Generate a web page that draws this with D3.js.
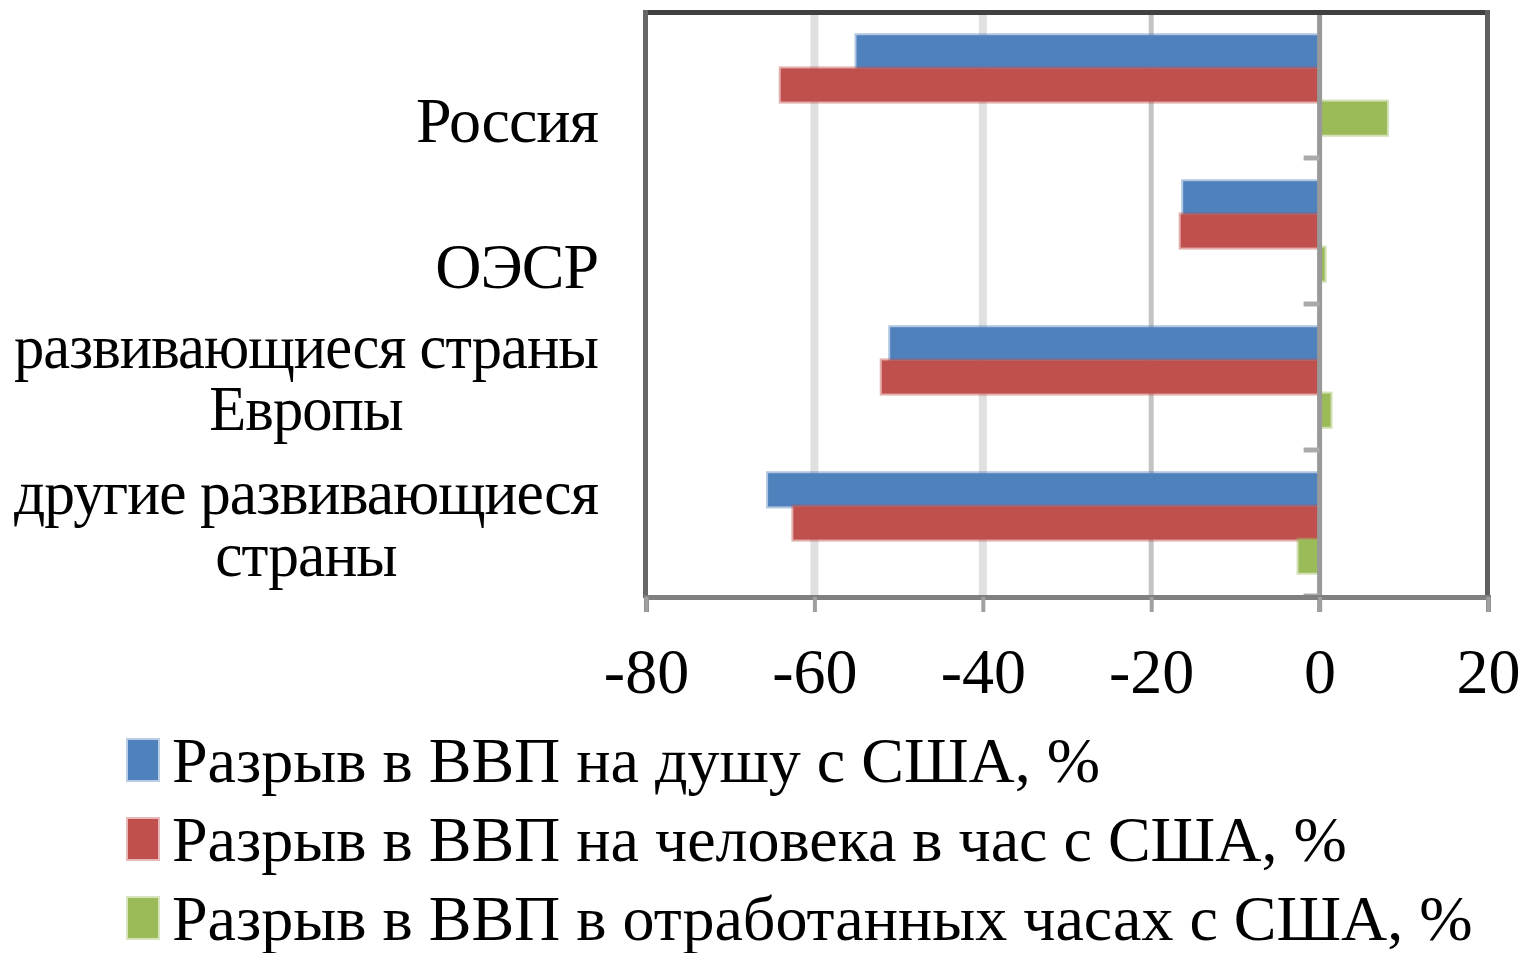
<!DOCTYPE html>
<meta charset="utf-8">
<title>Разрыв в ВВП с США</title>
<body>
<script src="https://cdn.jsdelivr.net/npm/d3@7"></script>
<style>
html, body {
    margin: 0;
    background: #fff;
}
svg {
    display: block;
    font-family: "Liberation Serif", "DejaVu Serif", serif;
}
</style>
<script>
var categories = ["Россия", "ОЭСР", "развивающиеся страны\nЕвропы", "другие развивающиеся\nстраны"];
var seriesNames = [
    "Разрыв в ВВП на душу с США, %",
    "Разрыв в ВВП на человека в час с США, %",
    "Разрыв в ВВП в отработанных часах с США, %"
];
var perCapita = [-55, -16.2, -51, -65.5];
var perHour = [-64, -16.5, -52, -62.5];
var hoursWorked = [8, 0.6, 1.3, -2.5];
var ticks = [-80, -60, -40, -20, 0, 20];
var colors = ["#4f81bd", "#c0504d", "#9bbb59"];

var width = 1525,
    height = 953;

var svg = d3.select("body").append("svg")
    .attr("width", width)
    .attr("height", height);

var x = d3.scaleLinear().domain([-80, 20]).range([646, 1488]);
var y = d3.scaleBand().domain(categories).range([12, 596]);
var y1 = d3.scaleBand().domain([0, 1, 2]).range([0, y.bandwidth()]).paddingOuter(0.7);

var series = [perCapita, perHour, hoursWorked];

// gridlines
svg.append("g").selectAll("line")
    .data(ticks.filter(function(t) { return t > -80 && t < 0; }))
    .enter().append("line")
    .attr("x1", x).attr("x2", x)
    .attr("y1", 12).attr("y2", 596)
    .attr("stroke", function(d) { return d === -20 ? "#c4c4c4" : "#e0e0e0"; })
    .attr("stroke-width", function(d) { return d === -20 ? 5 : 8; });

// bars
categories.forEach(function(c, ci) {
    var g = svg.append("g").attr("transform", "translate(0," + y(c) + ")");
    series.forEach(function(s, si) {
        var v = s[ci];
        g.append("rect")
            .attr("x", x(Math.min(0, v)))
            .attr("width", Math.abs(x(v) - x(0)))
            .attr("y", y1(si))
            .attr("height", y1.bandwidth())
            .attr("fill", colors[si])
            .attr("stroke", colors[si])
            .attr("stroke-opacity", 0.45)
            .attr("stroke-width", 4);
    });
});

// zero axis and category ticks
svg.append("line")
    .attr("x1", x(0)).attr("x2", x(0))
    .attr("y1", 12).attr("y2", 612)
    .attr("stroke", "#999").attr("stroke-width", 5);

svg.append("g").selectAll("line")
    .data(categories.slice(1).map(function(c) { return y(c); }).concat([596]))
    .enter().append("line")
    .attr("x1", x(0) - 16).attr("x2", x(0))
    .attr("y1", function(d) { return d; }).attr("y2", function(d) { return d; })
    .attr("stroke", "#aaa").attr("stroke-width", 5);

// frame
svg.append("line").attr("x1", 643).attr("x2", 1490).attr("y1", 12.5).attr("y2", 12.5)
    .attr("stroke", "#404040").attr("stroke-width", 5);
svg.append("line").attr("x1", 645.5).attr("x2", 645.5).attr("y1", 10).attr("y2", 598)
    .attr("stroke", "#666").attr("stroke-width", 5);
svg.append("line").attr("x1", 1487.5).attr("x2", 1487.5).attr("y1", 10).attr("y2", 598)
    .attr("stroke", "#606060").attr("stroke-width", 5);

// x axis
var xAxis = svg.append("g")
    .attr("transform", "translate(0,597)")
    .call(d3.axisBottom(x).tickValues(ticks).tickSize(15).tickPadding(36).tickFormat(d3.format("d")));
xAxis.select(".domain").attr("stroke", "#808080").attr("stroke-width", 5);
xAxis.selectAll(".tick line").attr("stroke", "#a0a0a0").attr("stroke-width", 4);
xAxis.selectAll(".tick text")
    .attr("font-family", "Liberation Serif, serif")
    .attr("font-size", 64)
    .attr("fill", "#000")
    .text(function(d) { return d < 0 ? "-" + Math.abs(d) : d; });

// category labels (multi-line ones centred within a right-aligned block)
var labelRight = 598,
    labelMax = 584;
categories.forEach(function(c) {
    var lines = c.split("\n");
    var cy = y(c) + y.bandwidth() / 2;
    var first = lines.length === 1 ? 57 : -9;
    var t = svg.append("text")
        .attr("font-size", 64)
        .attr("letter-spacing", -1)
        .attr("fill", "#000");
    var spans = lines.map(function(l, i) {
        return t.append("tspan")
            .attr("x", 0)
            .attr("y", cy + first + i * 62)
            .text(l);
    });
    var lens = spans.map(function(s) { return s.node().getComputedTextLength(); });
    var w = d3.max(lens);
    var k = Math.min(1, labelMax / w);
    t.attr("text-anchor", "middle");
    spans.forEach(function(s, i) {
        s.attr("x", labelRight - w * k / 2);
        if (k < 1) s.attr("textLength", lens[i] * k).attr("lengthAdjust", "spacingAndGlyphs");
    });
});

// legend
var legend = svg.append("g").selectAll("g")
    .data(seriesNames)
    .enter().append("g")
    .attr("transform", function(d, i) { return "translate(128," + (740 + i * 79) + ")"; });

legend.append("rect")
    .attr("width", 30).attr("height", 40)
    .attr("fill", function(d, i) { return colors[i]; })
    .attr("stroke", function(d, i) { return colors[i]; })
    .attr("stroke-opacity", 0.4)
    .attr("stroke-width", 4);

legend.append("text")
    .attr("x", 44)
    .attr("y", 42)
    .attr("font-size", 64)
    .attr("fill", "#000")
    .text(function(d) { return d; });
</script>
